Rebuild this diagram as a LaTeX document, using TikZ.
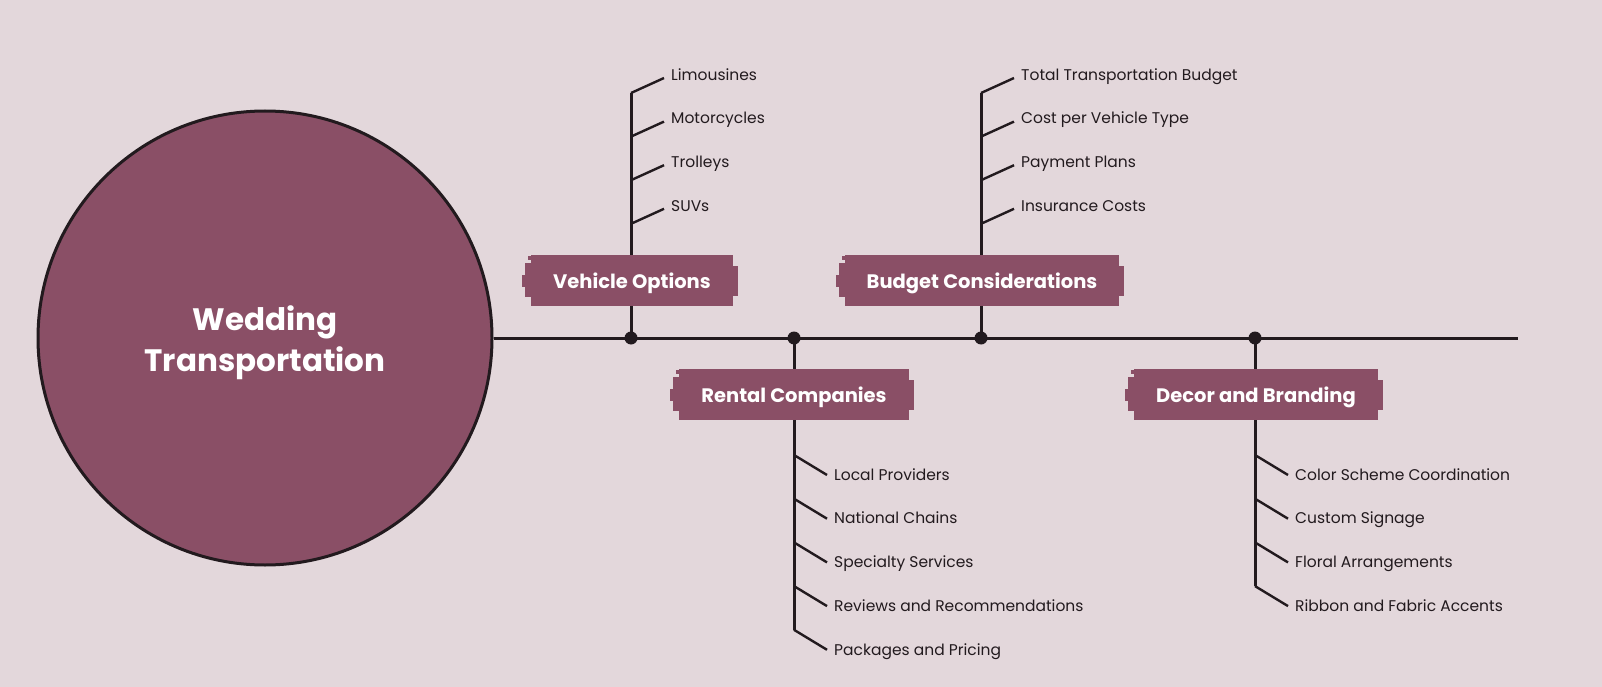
\documentclass[tikz,border=0pt]{standalone}
\usepackage{fontspec}
\setmainfont{Poppins}
\definecolor{bg}{HTML}{E3D7DB}
\definecolor{plum}{HTML}{8A4F66}
\definecolor{ink}{HTML}{221A1E}
\tikzset{
  leaf/.style={anchor=west, font=\fontsize{15.5}{18}\selectfont, text=ink, inner sep=0pt, text height=11pt, text depth=3.5pt},
  stem/.style={draw=ink, line width=3pt},
  twig/.style={draw=ink, line width=2.4pt},
  brush/.style={fill=plum, text=white, font=\bfseries\fontsize{19.5}{23}\selectfont, minimum height=51pt, inner xsep=22pt, text height=18pt, text depth=2pt},
  hubstyle/.style={circle, fill=plum, draw=ink, line width=3pt, minimum size=454pt, inner sep=0pt},
  hubtext/.style={text=white, align=center, font=\bfseries\fontsize{31}{41}\selectfont},
  knot/.style={circle, fill=ink, minimum size=13pt, inner sep=0pt},
}
\newcommand\brushedge[1]{%
  \fill[plum] ([xshift=-6pt,yshift=-9pt]#1.north west) rectangle ([xshift=1pt,yshift=9pt]#1.south west);
  \fill[plum] ([xshift=-9pt,yshift=-21pt]#1.north west) rectangle ([xshift=1pt,yshift=19pt]#1.south west);
  \fill[plum] ([xshift=5pt,yshift=-12pt]#1.north east) rectangle ([xshift=-1pt,yshift=10pt]#1.south east);
  \fill[plum] ([xshift=-3pt,yshift=-2pt]#1.north west) rectangle ([xshift=20pt,yshift=-6pt]#1.north west);
}
\begin{document}
\begin{tikzpicture}[x=1pt,y=-1pt]
\fill[bg] (0,0) rectangle (1602,687);
\useasboundingbox (0,0) rectangle (1602,687);

% hub and spine
\node[hubstyle] (hub) at (265,338) {};
\node[hubtext] (hubt) at ([yshift=-5pt]hub.center) {Wedding\\Transportation};
\coordinate (spineend) at (1518,338);
\draw[stem] (hub.east) -- (spineend);

% branch points
\node[knot] (d1) at (631,338) {};
\node[knot] (d2) at (794,338) {};
\node[knot] (d3) at (981,338) {};
\node[knot] (d4) at (1255,338) {};

% upper branches
\coordinate (top1) at (631,93);
\coordinate (top3) at (981,93);
\draw[stem] (d1.center) -- (top1);
\draw[stem] (d3.center) -- (top3);
\foreach \t [count=\i] in {Limousines,Motorcycles,Trolleys,SUVs}{
  \coordinate (va\i) at (631,{93+43.6*(\i-1)});
  \node[leaf] (vl\i) at (671,{76.5+43.6*(\i-1)}) {\t};
  \draw[twig] (va\i) -- ([xshift=-7pt,yshift=-1.5pt]vl\i.west);
}
\foreach \t [count=\i] in {Total Transportation Budget,Cost per Vehicle Type,Payment Plans,Insurance Costs}{
  \coordinate (ba\i) at (981,{93+43.6*(\i-1)});
  \node[leaf] (bl\i) at (1021,{76.5+43.6*(\i-1)}) {\t};
  \draw[twig] (ba\i) -- ([xshift=-7pt,yshift=-1.5pt]bl\i.west);
}

% lower branches
\coordinate (bot2) at (794,629.8);
\coordinate (bot4) at (1255,586.1);
\draw[stem] (d2.center) -- (bot2);
\draw[stem] (d4.center) -- (bot4);
\foreach \t [count=\i] in {Local Providers,National Chains,Specialty Services,Reviews and Recommendations,Packages and Pricing}{
  \coordinate (ra\i) at (794,{455+43.7*(\i-1)});
  \node[leaf] (rl\i) at (834,{476.5+43.7*(\i-1)}) {\t};
  \draw[twig] (ra\i) -- ([xshift=-7pt,yshift=1.5pt]rl\i.west);
}
\foreach \t [count=\i] in {Color Scheme Coordination,Custom Signage,Floral Arrangements,Ribbon and Fabric Accents}{
  \coordinate (da\i) at (1255,{455+43.7*(\i-1)});
  \node[leaf] (dl\i) at (1295,{476.5+43.7*(\i-1)}) {\t};
  \draw[twig] (da\i) -- ([xshift=-7pt,yshift=1.5pt]dl\i.west);
}

% category boxes
\node[brush] (veh) at (632,280) {Vehicle Options};
\brushedge{veh}
\node[brush] (bud) at (982,280) {Budget Considerations};
\brushedge{bud}
\node[brush] (ren) at (794,394) {Rental Companies};
\brushedge{ren}
\node[brush] (dec) at (1256,394) {Decor and Branding};
\brushedge{dec}
\end{tikzpicture}
\end{document}
